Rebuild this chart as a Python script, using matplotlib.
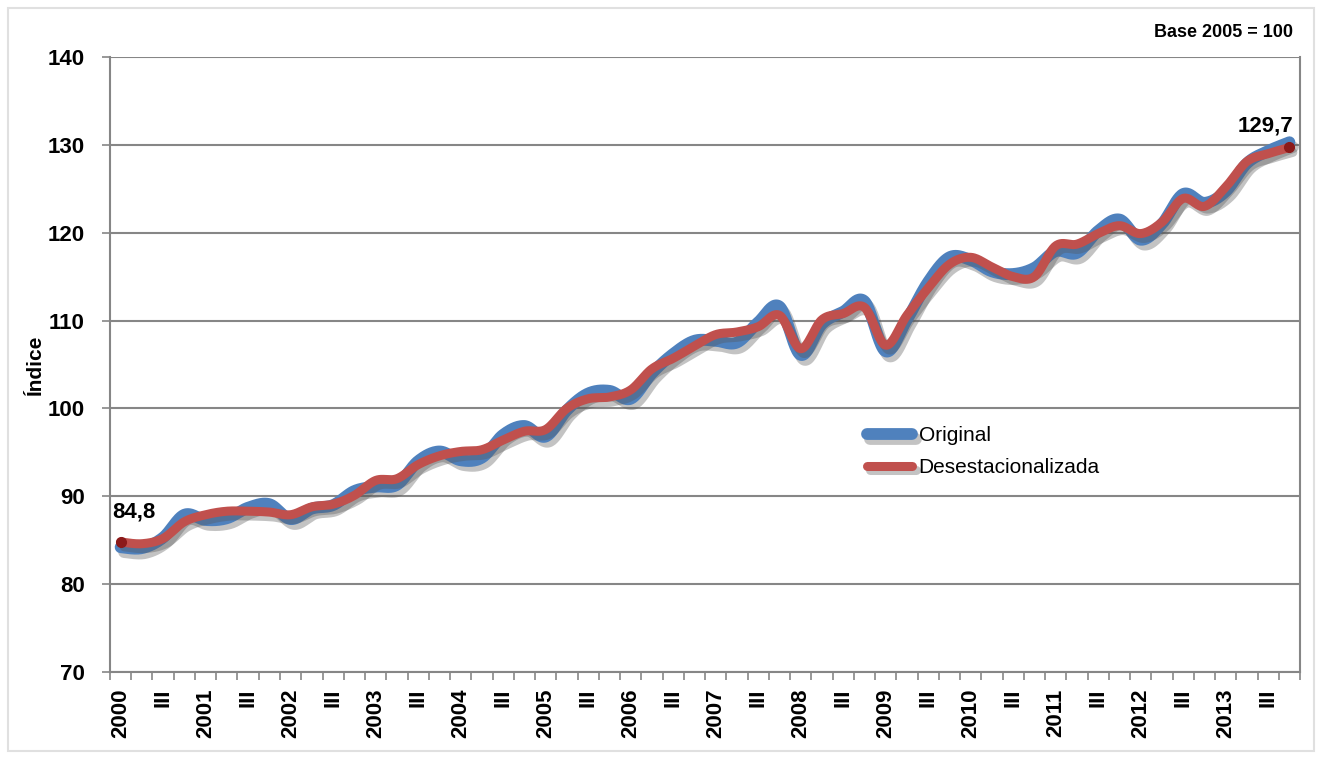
import numpy as np
import matplotlib
matplotlib.use('Agg')
import matplotlib.pyplot as plt
import matplotlib.patheffects as pe
from matplotlib.patches import Rectangle

plt.rcParams['font.family'] = ['Liberation Sans', 'DejaVu Sans']

# quarterly index, 2000-I .. 2013-IV
original = [84.2, 84.1, 85.3, 87.9, 87.3, 87.5, 88.7, 89.1, 87.4,
            88.6, 89.0, 90.6, 91.1, 91.3, 94.0, 95.1,
            94.1, 94.4, 97.0, 98.0, 96.8, 99.8, 101.7, 102.0,
            101.1, 104.0, 106.2, 107.7, 107.7, 107.5, 109.8, 111.6,
            106.1, 109.6, 111.0, 112.2, 106.5, 110.1, 114.4, 117.2,
            116.9, 115.6, 115.3, 116.0, 117.9, 117.7, 120.2, 121.5,
            119.2, 121.0, 124.4, 123.4, 124.7, 127.9, 129.3, 130.3]
desest = [84.8, 84.6, 85.2, 87.1, 87.9, 88.3, 88.3, 88.2, 87.9,
          88.8, 89.1, 90.1, 91.8, 92.0, 93.6, 94.6,
          95.1, 95.3, 96.4, 97.4, 97.6, 100.0, 101.1, 101.3,
          102.1, 104.5, 105.7, 107.1, 108.4, 108.7, 109.3, 110.6,
          106.8, 110.1, 110.8, 111.5, 107.2, 110.6, 113.7, 116.4,
          117.2, 116.1, 115.0, 115.0, 118.5, 118.7, 119.9, 120.8,
          119.9, 121.2, 123.9, 123.0, 125.2, 128.1, 129.0, 129.7]
years = [str(y) for y in range(2000, 2014)]


def smooth(y, n=24):
    # Catmull-Rom curve through the points (Excel "smoothed line")
    y = np.asarray(y, float)
    x = np.arange(len(y), dtype=float)
    P = np.column_stack([x, y])
    P = np.vstack([P[0], P, P[-1]])
    out = []
    t = np.linspace(0, 1, n, endpoint=False)[:, None]
    for i in range(1, len(P) - 2):
        p0, p1, p2, p3 = P[i - 1], P[i], P[i + 1], P[i + 2]
        c = 0.5 * ((2 * p1) + (-p0 + p2) * t + (2 * p0 - 5 * p1 + 4 * p2 - p3) * t ** 2
                   + (-p0 + 3 * p1 - 3 * p2 + p3) * t ** 3)
        out.append(c)
    out.append(P[-2][None, :])
    c = np.vstack(out)
    return c[:, 0], c[:, 1]


fig = plt.figure(figsize=(13.22, 7.57), dpi=100)
fig.patches.append(Rectangle((0.006, 0.008), 0.988, 0.982, transform=fig.transFigure,
                             fill=False, edgecolor='#e0e0e0', lw=1.5))
ax = fig.add_axes([0.0832, 0.1123, 0.9002, 0.8124])

shadow = [pe.SimpleLineShadow(offset=(2.5, -3.5), shadow_color='#555555', alpha=0.35),
          pe.Normal()]
xo, yo = smooth(original)
xd, yd = smooth(desest)
ax.plot(xo, yo, color='#4F81BD', lw=8.5, solid_capstyle='round', label='Original',
        path_effects=shadow, zorder=3)
ax.plot(xd, yd, color='#C0504D', lw=6.5, solid_capstyle='round', label='Desestacionalizada',
        path_effects=shadow, zorder=4)

n = len(desest)
ax.plot([0, n - 1], [desest[0], desest[-1]], 'o', ms=7, color='#8B1A1A', zorder=5)
ax.annotate(f'{desest[0]:.1f}'.replace('.', ','), (0, desest[0]), xytext=(-6, 14),
            textcoords='offset points', fontsize=16, fontweight='bold', ha='left', va='bottom')
ax.annotate(f'{desest[-1]:.1f}'.replace('.', ','), (n - 1, desest[-1]), xytext=(3, 8),
            textcoords='offset points', fontsize=16, fontweight='bold', ha='right', va='bottom')

ax.set_xlim(-0.5, n - 0.5)
ax.set_ylim(70, 140)
ax.set_yticks(range(70, 141, 10))
ax.yaxis.grid(True, color='#868686', lw=1.5)
ax.set_axisbelow(True)

pos = [i for i in range(n) if i % 4 in (0, 2)]
labs = [years[i // 4] if i % 4 == 0 else 'III' for i in pos]
ax.set_xticks(pos)
ax.set_xticklabels(labs, rotation=90, fontsize=16, fontweight='bold')
ax.set_xticks(np.arange(-0.5, n, 1), minor=True)
ax.tick_params(axis='x', which='major', length=0, pad=12)
ax.tick_params(axis='x', which='minor', length=6, width=1.2, color='#868686')
ax.tick_params(axis='y', length=6, width=1.2, color='#868686', labelsize=16, pad=12)
for lab in ax.get_yticklabels():
    lab.set_fontweight('bold')

for s in ['left', 'bottom', 'right']:
    ax.spines[s].set_color('#868686')
    ax.spines[s].set_linewidth(1.5)
ax.spines['top'].set_visible(False)

ax.set_ylabel('Índice', fontsize=15, fontweight='bold', labelpad=2)
fig.text(0.978, 0.957, 'Base 2005 = 100', fontsize=13, fontweight='bold', ha='right', va='center')

ax.legend(loc='upper left', bbox_to_anchor=(0.62, 0.43), frameon=False, fontsize=15,
          handlelength=2.2, labelspacing=0.6, handletextpad=0.3)

fig.savefig('out.png', dpi=100)
